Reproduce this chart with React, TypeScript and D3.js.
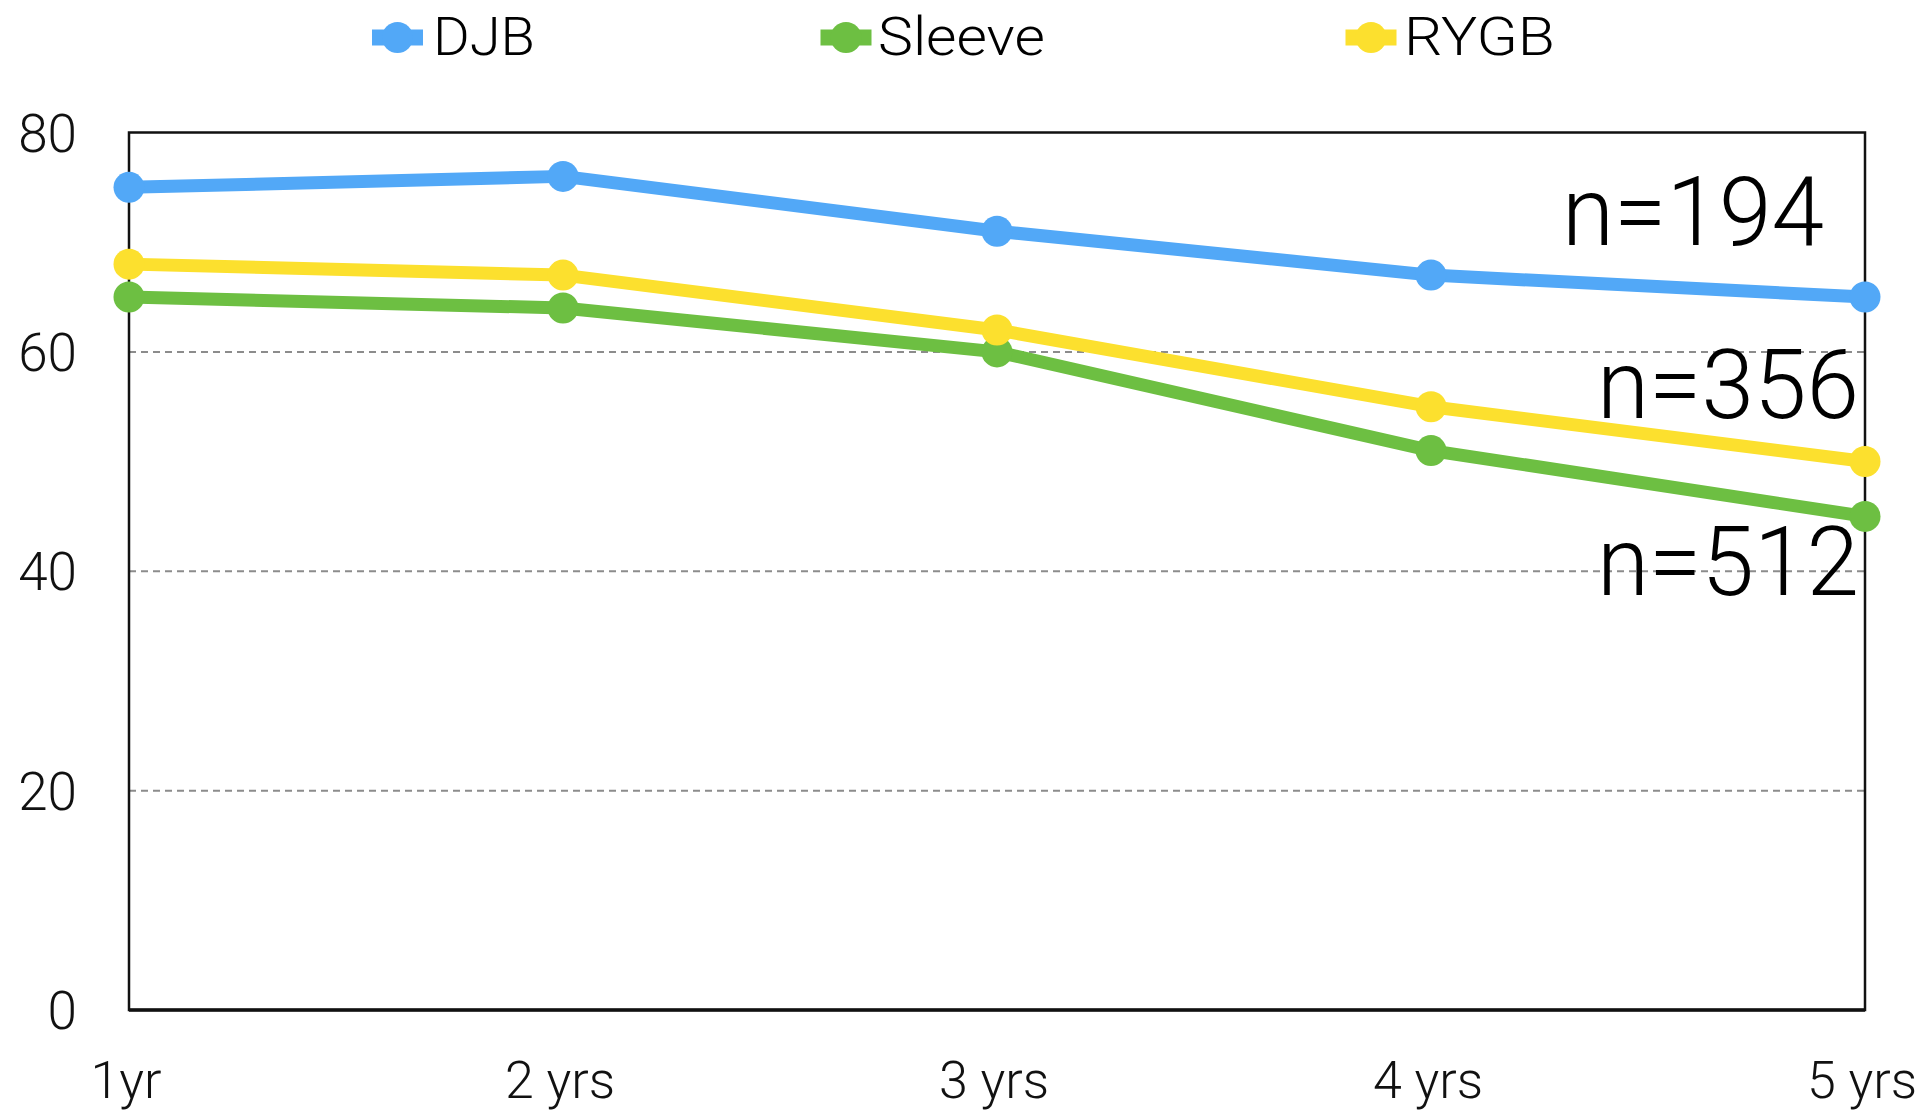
import React from "react";
import * as d3 from "d3";

const categories = ["1yr", "2 yrs", "3 yrs", "4 yrs", "5 yrs"];
const djb = [75, 76, 71, 67, 65];
const sleeve = [65, 64, 60, 51, 45];
const rygb = [68, 67, 62, 55, 50];
const yTicks = [0, 20, 40, 60, 80];
const gridValues = [20, 40, 60];
const seriesNames = ["DJB", "Sleeve", "RYGB"];
const seriesColors = ["#52A8F7", "#6DBF42", "#FCE02E"];
const nLabels = ["n=194", "n=356", "n=512"];

const W = 1924;
const H = 1111;
const left = 129;
const right = 1865;
const top = 132.5;
const bottom = 1010;
const FONT = "Roboto, 'Liberation Sans', Arial, sans-serif";

export default function App() {
  const x = d3.scalePoint<string>().domain(categories).range([left, right]);
  const y = d3.scaleLinear().domain([0, 80]).range([bottom, top]);
  const line = d3
    .line<number>()
    .x((_, i) => x(categories[i]) as number)
    .y((d) => y(d));

  const series = [
    { name: seriesNames[0], values: djb, color: seriesColors[0] },
    { name: seriesNames[1], values: sleeve, color: seriesColors[1] },
    { name: seriesNames[2], values: rygb, color: seriesColors[2] },
  ];

  const legendX = [397.5, 846, 1371];
  const legendTextX = [433, 878, 1404];
  const legendTextLen = [102, 167, 151];
  const labelPos = [
    { x: 1824, y: 245 },
    { x: 1859, y: 418 },
    { x: 1859, y: 595 },
  ];

  return (
    <svg
      width={W}
      height={H}
      style={{ position: "absolute", left: 0, top: 0, background: "#fff" }}
      fontFamily={FONT}
    >
      <rect x={0} y={0} width={W} height={H} fill="#fff" />
      {/* gridlines */}
      {gridValues.map((v) => (
        <line
          key={v}
          x1={left}
          x2={right}
          y1={y(v)}
          y2={y(v)}
          stroke="#8c8c8c"
          strokeWidth={2}
          strokeDasharray="7 5"
        />
      ))}
      {/* frame */}
      <rect
        x={left}
        y={top}
        width={right - left}
        height={bottom - top}
        fill="none"
        stroke="#111"
        strokeWidth={2.5}
      />
      <line x1={left} x2={right} y1={bottom} y2={bottom} stroke="#111" strokeWidth={3.5} />
      {/* y tick labels */}
      {yTicks.map((t) => (
        <text
          key={t}
          x={77}
          y={y(t) + 19}
          textAnchor="end"
          fontSize={53}
          fontWeight={300}
          fill="#111"
        >
          {t}
        </text>
      ))}
      {/* x tick labels */}
      {categories.map((c) => (
        <text
          key={c}
          x={(x(c) as number) - 3}
          y={1098}
          textAnchor="middle"
          fontSize={52}
          fontWeight={300}
          fill="#111"
        >
          {c}
        </text>
      ))}
      {/* series */}
      {series.map((s) => (
        <g key={s.name}>
          <path
            d={line(s.values) as string}
            fill="none"
            stroke={s.color}
            strokeWidth={13}
            strokeLinejoin="round"
          />
          {s.values.map((v, i) => (
            <circle key={i} cx={x(categories[i]) as number} cy={y(v)} r={15.5} fill={s.color} />
          ))}
        </g>
      ))}
      {/* n labels */}
      {nLabels.map((t, i) => (
        <text
          key={t}
          x={labelPos[i].x}
          y={labelPos[i].y}
          textAnchor="end"
          fontSize={96}
          fontWeight={300}
          fill="#000"
          textLength={262}
          lengthAdjust="spacingAndGlyphs"
        >
          {t}
        </text>
      ))}
      {/* legend */}
      {series.map((s, i) => (
        <g key={s.name}>
          <rect x={legendX[i] - 25.5} y={29.5} width={51} height={16} fill={s.color} />
          <circle cx={legendX[i]} cy={37.5} r={15.5} fill={s.color} />
          <text
            x={legendTextX[i]}
            y={55}
            fontSize={54}
            fontWeight={300}
            fill="#000"
            textLength={legendTextLen[i]}
            lengthAdjust="spacingAndGlyphs"
          >
            {s.name}
          </text>
        </g>
      ))}
    </svg>
  );
}
